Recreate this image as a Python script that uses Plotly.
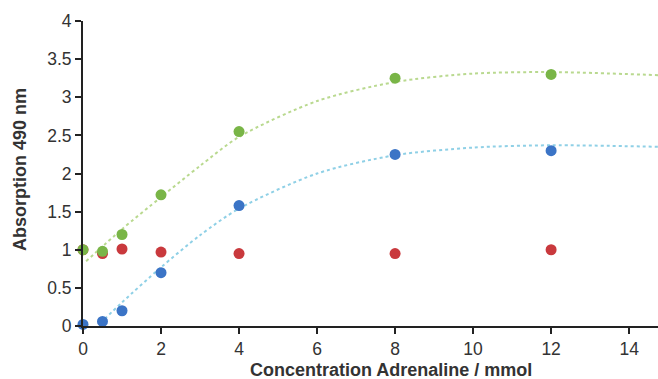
import plotly.graph_objects as go

conc = [0, 0.5, 1, 2, 4, 8, 12]
green_vals = [1.0, 0.98, 1.2, 1.72, 2.55, 3.25, 3.30]
red_vals = [1.0, 0.95, 1.01, 0.97, 0.95, 0.95, 1.0]
blue_vals = [0.02, 0.06, 0.20, 0.70, 1.58, 2.25, 2.30]

green_fit_x = [0.08, 1, 2, 3, 4, 6, 8, 10, 12, 14.74]
green_fit_y = [0.85, 1.27, 1.69, 2.10, 2.48, 2.95, 3.20, 3.31, 3.33, 3.29]
blue_fit_x = [0.45, 1, 2, 3, 4, 6, 8, 10, 12, 14.74]
blue_fit_y = [0.04, 0.31, 0.77, 1.19, 1.54, 2.00, 2.24, 2.34, 2.37, 2.35]

x_ticks = [0, 2, 4, 6, 8, 10, 12, 14]
y_ticks = [0, 0.5, 1, 1.5, 2, 2.5, 3, 3.5, 4]

x_title = "Concentration Adrenaline / mmol"
y_title = "Absorption 490 nm"

fig = go.Figure()
fig.add_trace(go.Scatter(x=green_fit_x, y=green_fit_y, mode="lines", line_shape="spline",
                         line=dict(color="#b9d98f", width=2, dash="dot", smoothing=0.8),
                         cliponaxis=False))
fig.add_trace(go.Scatter(x=blue_fit_x, y=blue_fit_y, mode="lines", line_shape="spline",
                         line=dict(color="#8fd0e6", width=2, dash="dot", smoothing=0.8),
                         cliponaxis=False))
fig.add_trace(go.Scatter(x=conc, y=red_vals, mode="markers",
                         marker=dict(color="#c9393d", size=11), cliponaxis=False))
fig.add_trace(go.Scatter(x=conc, y=green_vals, mode="markers",
                         marker=dict(color="#79b547", size=11), cliponaxis=False))
fig.add_trace(go.Scatter(x=conc, y=blue_vals, mode="markers",
                         marker=dict(color="#3b74c6", size=11), cliponaxis=False))

axis_common = dict(showgrid=False, zeroline=False, automargin=False,
                   showline=True, linecolor="#222222", linewidth=2,
                   ticks="outside", ticklen=6, tickcolor="#222222", tickwidth=2,
                   tickfont=dict(size=17.5, color="#333333"))

fig.update_layout(
    width=658, height=379,
    margin=dict(l=83, r=0, t=21, b=53),
    plot_bgcolor="white", paper_bgcolor="white",
    showlegend=False,
    font=dict(family="Liberation Sans, Arial, sans-serif", size=17.5, color="#333333"),
    xaxis=dict(range=[0, 14.74], tickvals=x_ticks, **axis_common),
    yaxis=dict(range=[0, 4], tickvals=y_ticks, **axis_common),
    annotations=[
        dict(text="<b>" + x_title + "</b>", xref="paper", yref="paper",
             x=(391 - 83) / 575, y=(379 - 53 - 370) / 305, xanchor="center", yanchor="middle",
             showarrow=False, font=dict(size=18, color="#333333")),
        dict(text="<b>" + y_title + "</b>", xref="paper", yref="paper",
             x=(20 - 83) / 575, y=(326 - 170) / 305, xanchor="center", yanchor="middle",
             textangle=-90, showarrow=False, font=dict(size=18, color="#333333")),
    ],
)

fig.write_html("out.html", config={"displayModeBar": False},
               post_script="document.body.style.margin='0';document.body.style.overflow='hidden';")
